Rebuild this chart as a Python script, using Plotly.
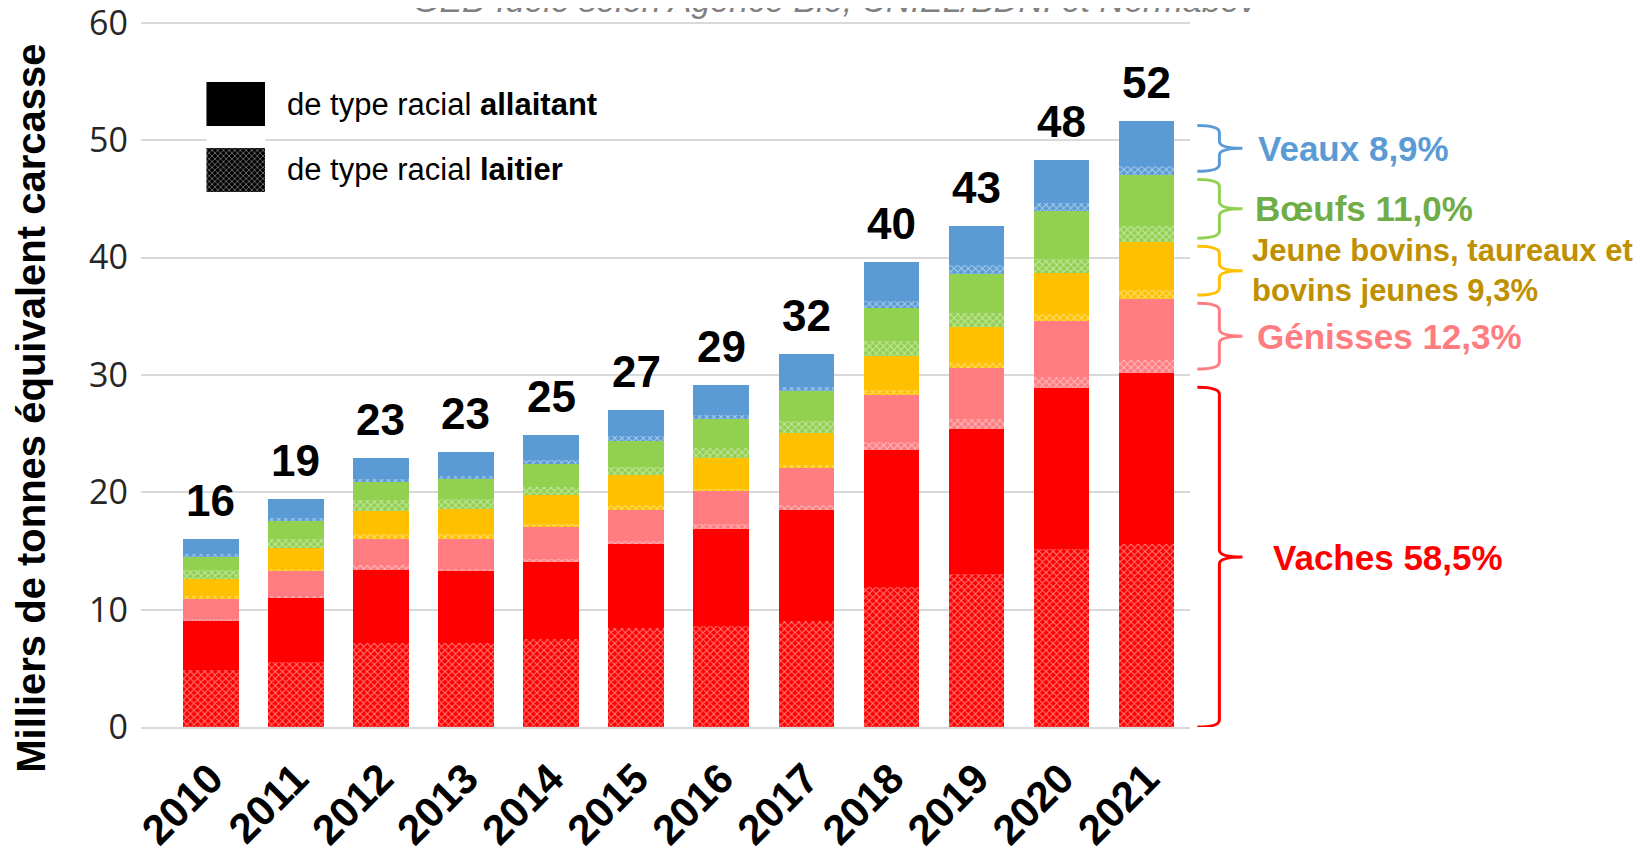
import plotly.graph_objects as go

years = ["2010", "2011", "2012", "2013", "2014", "2015",
         "2016", "2017", "2018", "2019", "2020", "2021"]

# milliers de tec, par catégorie : laitier (motif) puis allaitant (plein)
vaches_lait = [4.83, 5.54, 7.19, 7.19, 7.53, 8.40, 8.59, 8.99, 11.96, 13.03, 15.13, 15.56]
vaches_allait = [4.17, 5.48, 6.16, 6.16, 6.53, 7.18, 8.27, 9.51, 11.67, 12.39, 13.75, 14.59]
genisses_lait = [0.23, 0.14, 0.43, 0.15, 0.29, 0.27, 0.43, 0.38, 0.64, 0.86, 0.97, 1.15]
genisses_allait = [1.71, 2.11, 2.27, 2.55, 2.70, 2.65, 2.83, 3.17, 4.03, 4.27, 4.73, 5.15]
jb_lait = [0.22, 0.22, 0.43, 0.43, 0.28, 0.38, 0.20, 0.28, 0.37, 0.43, 0.62, 0.75]
jb_allait = [1.43, 1.77, 1.90, 2.13, 2.41, 2.59, 2.59, 2.74, 2.97, 3.08, 3.50, 4.10]
boeufs_lait = [0.76, 0.79, 0.94, 0.85, 0.71, 0.72, 0.87, 1.01, 1.21, 1.24, 1.21, 1.35]
boeufs_allait = [1.14, 1.48, 1.56, 1.70, 1.99, 2.16, 2.44, 2.51, 2.88, 3.26, 4.04, 4.35]
veaux_lait = [0.23, 0.28, 0.23, 0.23, 0.29, 0.43, 0.35, 0.37, 0.58, 0.78, 0.72, 0.80]
veaux_allait = [1.33, 1.59, 1.82, 2.05, 2.13, 2.25, 2.54, 2.80, 3.32, 3.37, 3.60, 3.80]

categories = ["Vaches", "Génisses", "Jeune bovins", "Bœufs", "Veaux"]
cat_colors = ["#FF0000", "#FF7C80", "#FFC000", "#92D050", "#5B9BD5"]
label_colors = ["#FF0000", "#FF7C80", "#BF9000", "#70AD47", "#5B9BD5"]
cat_labels = ["Vaches 58,5%", "Génisses 12,3%",
              "Jeune bovins, taureaux et<br>bovins jeunes 9,3%",
              "Bœufs 11,0%", "Veaux 8,9%"]
series = [(vaches_lait, vaches_allait), (genisses_lait, genisses_allait),
          (jb_lait, jb_allait), (boeufs_lait, boeufs_allait),
          (veaux_lait, veaux_allait)]

FONT = "Liberation Sans, Arial, sans-serif"
PATTERN = dict(shape="x", fgcolor="white", size=5, solidity=0.35)

fig = go.Figure()

for name, color, (lait, allait) in zip(categories, cat_colors, series):
    fig.add_trace(go.Bar(
        x=years, y=lait, name=f"{name} laitier",
        marker=dict(color=color, line_width=0, pattern=dict(PATTERN, bgcolor=color)),
    ))
    fig.add_trace(go.Bar(
        x=years, y=allait, name=f"{name} allaitant",
        marker=dict(color=color, line_width=0),
    ))

# totaux au-dessus des barres (x = index de catégorie, les années ressemblent à des nombres)
totals = [sum(v) for v in zip(*[s for pair in series for s in pair])]
for i, tot in enumerate(totals):
    fig.add_annotation(xref="x", yref="y", x=i, y=tot, text=f"{tot:.0f}",
                       showarrow=False, yanchor="bottom", yshift=12,
                       font=dict(family=FONT, size=44, color="black", weight="bold"))

# légende (icônes sur axes secondaires)
fig.add_trace(go.Bar(y=["laitier"], x=[1], orientation="h", width=0.667,
                     xaxis="x2", yaxis="y2",
                     marker=dict(color="black", line_width=0,
                                 pattern=dict(PATTERN, bgcolor="black", size=4))))
fig.add_trace(go.Bar(y=["allaitant"], x=[1], orientation="h", width=0.667,
                     xaxis="x2", yaxis="y2",
                     marker=dict(color="black", line_width=0)))
for txt, ypos in [("de type racial <b>allaitant</b>", 0.882),
                  ("de type racial <b>laitier</b>", 0.790)]:
    fig.add_annotation(xref="paper", yref="paper", x=0.137, y=ypos, text=txt,
                       showarrow=False, xanchor="left", yanchor="middle",
                       font=dict(family=FONT, size=31, color="black"))

# accolades à droite, calées sur la barre 2021
last = [s[-1] for pair in series for s in pair]
bottom = 0.0
label_x = [1.077, 1.062, 1.057, 1.060, 1.063]
label_size = [35, 35, 31, 35, 35]
for i, (name, color) in enumerate(zip(categories, cat_colors)):
    top = bottom + last[2 * i] + last[2 * i + 1]
    y0 = bottom + (0.0 if i == 0 else 0.35)
    y1 = top - (1.2 if i == 0 else 0.35)
    ym = (y0 + y1) / 2
    r = 0.6
    xh, xl, xt = 1.007, 1.028, 1.050
    path = (f"M{xh},{y1} Q{xl},{y1} {xl},{y1 - r} L{xl},{ym + r} "
            f"Q{xl},{ym} {xt},{ym} Q{xl},{ym} {xl},{ym - r} "
            f"L{xl},{y0 + r} Q{xl},{y0} {xh},{y0}")
    fig.add_shape(type="path", path=path, xref="paper", yref="y",
                  line=dict(color=color, width=3))
    fig.add_annotation(xref="paper", yref="y", x=label_x[i], y=ym,
                       text=cat_labels[i], showarrow=False, align="left",
                       xanchor="left", yanchor="middle",
                       font=dict(family=FONT, size=label_size[i],
                                 color=label_colors[i], weight="bold"))
    bottom = top

# source (coupée en haut dans l'original)
fig.add_annotation(xref="paper", yref="paper", x=0.6625, y=1.030,
                   text="<i>GEB-Idele selon Agence Bio, CNIEL/BDNI et Normabev</i>",
                   showarrow=False, xanchor="center", yanchor="middle",
                   font=dict(family=FONT, size=34, color="#808080"))

# titre de l'axe y
fig.add_annotation(xref="paper", yref="paper", x=-0.105, y=0.452,
                   text="Milliers de tonnes équivalent carcasse", textangle=-90,
                   showarrow=False, xanchor="center", yanchor="middle",
                   font=dict(family=FONT, size=40, color="black", weight="bold"))

fig.update_layout(
    barmode="stack",
    bargap=0.347,
    showlegend=False,
    width=1636, height=847,
    margin=dict(l=133, r=454, t=13, b=128),
    plot_bgcolor="white", paper_bgcolor="white",
    xaxis=dict(type="category", range=[-0.82, 11.51], tickangle=-45,
               automargin=False,
               showgrid=False, showline=True, linecolor="#D9D9D9", linewidth=2,
               ticks="", ticklabelstandoff=8,
               tickfont=dict(family=FONT, size=42, color="black", weight="bold")),
    yaxis=dict(range=[0, 60.15], tickvals=[0, 10, 20, 30, 40, 50, 60],
               automargin=False,
               showgrid=True, gridcolor="#D9D9D9", gridwidth=2,
               zeroline=False, ticks="", ticklabelstandoff=12,
               ticklabeloverflow="allow",
               tickfont=dict(family="Open Sans", size=34, color="#262626")),
    xaxis2=dict(domain=[0.0624, 0.1185], anchor="y2", range=[0, 1], visible=False),
    yaxis2=dict(domain=[0.7415, 0.929], anchor="x2", visible=False,
                categoryorder="array", categoryarray=["laitier", "allaitant"]),
)

fig.write_html("out.html")
